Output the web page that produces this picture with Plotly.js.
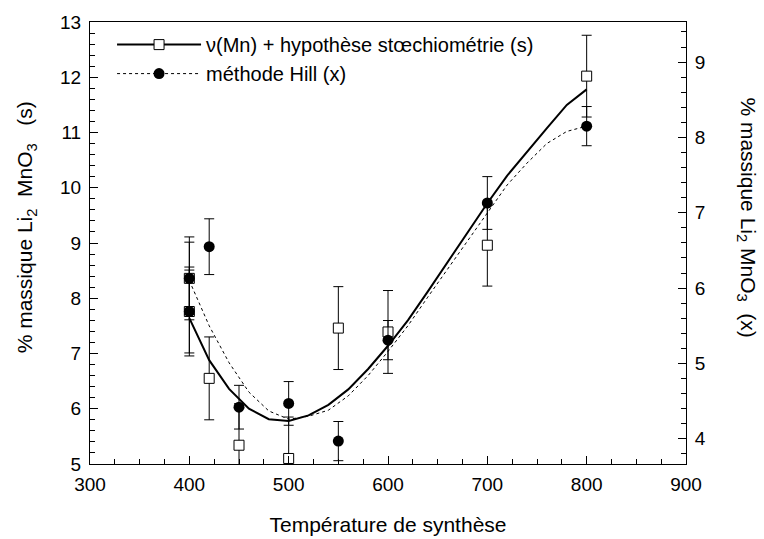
<!DOCTYPE html>
<html><head><meta charset="utf-8">
<script src="https://cdn.plot.ly/plotly-3.0.1.min.js"></script>
<style>body{margin:0;background:#fff}</style>
</head><body><div id="chart" style="width:764px;height:539px"></div>
<script>
// Measured points, series (s): left axis
const tempS = [400, 400, 420, 450, 500, 550, 600, 700, 800];
const valS = [8.36, 7.76, 6.55, 5.34, 5.10, 7.46, 7.39, 8.96, 12.02];
const errS = [0.75, 0.75, 0.75, 0.75, 0.75, 0.75, 0.75, 0.74, 0.74];
// Measured points, series (x): right axis
const tempX = [400, 400, 420, 450, 500, 550, 600, 700, 800];
const valX = [6.13, 5.69, 6.55, 4.42, 4.47, 3.97, 5.31, 7.13, 8.15];
const errX = [0.48, 0.59, 0.37, 0.29, 0.29, 0.26, 0.26, 0.35, 0.26];
// Fitted curves
const fitTemp = [400, 420, 440, 460, 480, 500, 520, 540, 560, 580, 600, 620, 640, 660, 680, 700, 720, 740, 760, 780, 800];
const fitS = [7.64, 6.88, 6.36, 6.00, 5.81, 5.78, 5.88, 6.07, 6.35, 6.72, 7.14, 7.60, 8.12, 8.65, 9.18, 9.72, 10.22, 10.66, 11.08, 11.50, 11.78];
const fitX = [6.10, 5.50, 5.01, 4.62, 4.37, 4.26, 4.30, 4.38, 4.57, 4.84, 5.16, 5.50, 5.88, 6.25, 6.63, 7.00, 7.37, 7.66, 7.92, 8.08, 8.15];
// Labels
const labelS = "ν(Mn) + hypothèse stœchiométrie (s)";
const labelX = "méthode Hill (x)";
const xTitle = "Température de synthèse";
const yTitle = "% massique Li<sub>2</sub>  MnO<sub>3</sub>   (s)";
const y2Title = "% massique Li<sub>2</sub> MnO<sub>3</sub>  (x)";

const FONT = "Arial, 'Liberation Sans', sans-serif";
const traces = [
  {x: fitTemp, y: fitS, mode: 'lines', line: {color: '#000', width: 2}, showlegend: false, yaxis: 'y', hoverinfo: 'skip'},
  {x: fitTemp, y: fitX, mode: 'lines', line: {color: '#000', width: 1, dash: 'dot'}, showlegend: false, yaxis: 'y2', hoverinfo: 'skip'},
  {x: tempS, y: valS, mode: 'markers', yaxis: 'y', showlegend: false,
   marker: {symbol: 'square', size: 10, color: '#fff', line: {color: '#000', width: 1}},
   error_y: {type: 'data', array: errS, visible: true, color: '#000', thickness: 1, width: 5}},
  {x: tempX, y: valX, mode: 'markers', yaxis: 'y2', showlegend: false,
   marker: {symbol: 'circle', size: 11, color: '#000'},
   error_y: {type: 'data', array: errX, visible: true, color: '#000', thickness: 1, width: 5}},
  {x: [null], y: [null], mode: 'lines+markers', name: labelS, line: {color: '#000', width: 2},
   marker: {symbol: 'square', size: 10, color: '#fff', line: {color: '#000', width: 1}}},
  {x: [null], y: [null], mode: 'lines+markers', name: labelX, line: {color: '#000', width: 1, dash: 'dot'},
   marker: {symbol: 'circle', size: 11, color: '#000'}}
];

const axisCommon = {
  showgrid: false, zeroline: false, showline: true, linecolor: '#000', linewidth: 1,
  ticks: 'inside', ticklen: 8, tickwidth: 1, tickcolor: '#000',
  tickfont: {family: FONT, size: 19, color: '#000'}
};

const layout = {
  width: 764, height: 539,
  margin: {l: 90, r: 78, t: 22, b: 75},
  paper_bgcolor: '#fff', plot_bgcolor: '#fff',
  font: {family: FONT, color: '#000'},
  showlegend: true,
  legend: {x: 0.037, y: 0.993, xanchor: 'left', yanchor: 'top', bgcolor: 'rgba(0,0,0,0)',
           font: {family: FONT, size: 20, color: '#000'}, itemwidth: 84, tracegroupgap: 0},
  xaxis: Object.assign({}, axisCommon, {
    range: [300, 900], dtick: 100, tick0: 300, mirror: true,
    minor: {dtick: 25, ticks: 'inside', ticklen: 5, tickcolor: '#000'},
    ticklabelstandoff: 3,
    title: {text: xTitle, font: {family: FONT, size: 21, color: '#000'}, standoff: 23}
  }),
  yaxis: Object.assign({}, axisCommon, {
    range: [5, 13], dtick: 1, tick0: 5,
    minor: {dtick: 0.2, ticks: 'inside', ticklen: 5, tickcolor: '#000'},
    ticklabelstandoff: 4
  }),
  yaxis2: Object.assign({}, axisCommon, {
    overlaying: 'y', side: 'right', range: [3.666, 9.532], dtick: 1, tick0: 4,
    minor: {dtick: 0.2, ticks: 'inside', ticklen: 5, tickcolor: '#000'},
    ticklabelstandoff: 4
  }),
  annotations: [{
    text: yTitle, xref: 'paper', yref: 'paper', x: -0.107, y: 0.536, xanchor: 'center', yanchor: 'middle',
    textangle: -90, showarrow: false, font: {family: FONT, size: 21, color: '#000'}
  }, {
    text: y2Title, xref: 'paper', yref: 'paper', x: 1.103, y: 0.557, xanchor: 'center', yanchor: 'middle',
    textangle: 90, showarrow: false, font: {family: FONT, size: 21, color: '#000'}
  }]
};

Plotly.newPlot('chart', traces, layout, {displayModeBar: false, staticPlot: true});
</script>
</body></html>
